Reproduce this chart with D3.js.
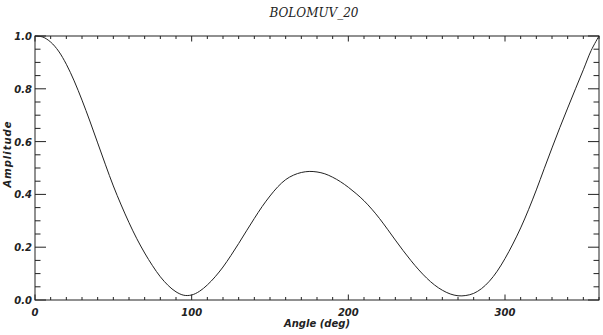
<!DOCTYPE html>
<html>
<head>
<meta charset="utf-8">
<script src="https://cdn.jsdelivr.net/npm/d3@7"></script>
<style>
  body { margin: 0; background: #fff; }
  text { font-family: "DejaVu Sans", sans-serif; font-style: italic; fill: #222; }
</style>
</head>
<body>
<script>
const angles = [0, 5, 10, 15, 20, 25, 30, 35, 40, 45, 50, 55, 60, 65, 70, 75, 80, 85, 90, 95,
  100, 105, 110, 115, 120, 125, 130, 135, 140, 145, 150, 155, 160, 165, 170, 175, 180, 185, 190, 195,
  200, 205, 210, 215, 220, 225, 230, 235, 240, 245, 250, 255, 260, 265, 270, 275, 280, 285, 290, 295,
  300, 305, 310, 315, 320, 325, 330, 335, 340, 345, 350, 355, 360];
const amplitude = [1.0, 0.996, 0.977, 0.943, 0.893, 0.83, 0.757, 0.678, 0.595, 0.512, 0.432, 0.36, 0.293, 0.232, 0.178, 0.13, 0.088, 0.055, 0.031, 0.018,
  0.019, 0.033, 0.057, 0.088, 0.125, 0.168, 0.214, 0.262, 0.309, 0.354, 0.394, 0.429, 0.456, 0.473, 0.483, 0.487, 0.485, 0.478, 0.465, 0.448,
  0.427, 0.403, 0.376, 0.344, 0.308, 0.268, 0.227, 0.187, 0.149, 0.114, 0.083, 0.057, 0.037, 0.023, 0.016, 0.017, 0.025, 0.043, 0.071, 0.109,
  0.157, 0.212, 0.273, 0.342, 0.417, 0.497, 0.576, 0.653, 0.727, 0.8, 0.872, 0.945, 1.0];
const xTicks = [0, 100, 200, 300];
const yTicks = [0.0, 0.2, 0.4, 0.6, 0.8, 1.0];

const W = 603, H = 335;
const pLeft = 35, pRight = 599, pTop = 36, pBottom = 300;

const svg = d3.select("body").append("svg")
  .attr("width", W)
  .attr("height", H);

const x = d3.scaleLinear().domain([0, 360]).range([pLeft, pRight]);
const y = d3.scaleLinear().domain([0, 1]).range([pBottom, pTop]);

const xMinor = d3.range(0, 361, 10);
const yMinor = d3.range(0, 1.0001, 0.05);
const yLen = 11;

// frame
svg.append("rect")
  .attr("x", pLeft).attr("y", pTop)
  .attr("width", pRight - pLeft).attr("height", pBottom - pTop)
  .attr("fill", "none").attr("stroke", "#222").attr("stroke-width", 1);

const ticks = svg.append("g").attr("stroke", "#222").attr("stroke-width", 1);

// x ticks bottom and top
xMinor.forEach(v => {
  const major = v % 100 === 0;
  const l = major ? 5.5 : 3;
  ticks.append("line").attr("x1", x(v)).attr("x2", x(v))
    .attr("y1", pBottom).attr("y2", pBottom - l);
  ticks.append("line").attr("x1", x(v)).attr("x2", x(v))
    .attr("y1", pTop).attr("y2", pTop + l);
});

// y ticks left and right
yMinor.forEach(v => {
  const major = Math.abs(v * 5 - Math.round(v * 5)) < 1e-6;
  const l = major ? yLen : yLen / 2;
  ticks.append("line").attr("x1", pLeft).attr("x2", pLeft + l)
    .attr("y1", y(v)).attr("y2", y(v));
  ticks.append("line").attr("x1", pRight).attr("x2", pRight - l)
    .attr("y1", y(v)).attr("y2", y(v));
});

// tick labels
svg.selectAll(".xl").data(xTicks).enter().append("text")
  .attr("x", d => x(d)).attr("y", 316)
  .attr("text-anchor", "middle")
  .attr("font-size", 10)
  .attr("font-weight", 600)
  .text(d => d);

svg.selectAll(".yl").data(yTicks).enter().append("text")
  .attr("x", 32).attr("y", d => y(d) + 4)
  .attr("text-anchor", "end")
  .attr("font-size", 10)
  .attr("font-weight", 600)
  .text(d => d.toFixed(1));

// axis titles
svg.append("text")
  .attr("x", 317).attr("y", 327)
  .attr("text-anchor", "middle")
  .attr("font-size", 10)
  .attr("font-weight", 600)
  .text("Angle (deg)");

svg.append("text")
  .attr("transform", "translate(11,154) rotate(-90)")
  .attr("text-anchor", "middle")
  .attr("font-size", 10)
  .attr("font-weight", 600)
  .attr("letter-spacing", 1)
  .text("Amplitude");

svg.append("text")
  .attr("x", 314).attr("y", 17)
  .attr("text-anchor", "middle")
  .attr("font-size", 12)
  .style("font-family", "'DejaVu Serif', serif")
  .text("BOLOMUV_20");

// curve
const line = d3.line()
  .x((d, i) => x(angles[i]))
  .y(d => y(d))
  .curve(d3.curveCatmullRom);

svg.append("path")
  .datum(amplitude)
  .attr("d", line)
  .attr("fill", "none")
  .attr("stroke", "#222")
  .attr("stroke-width", 1);
</script>
</body>
</html>
